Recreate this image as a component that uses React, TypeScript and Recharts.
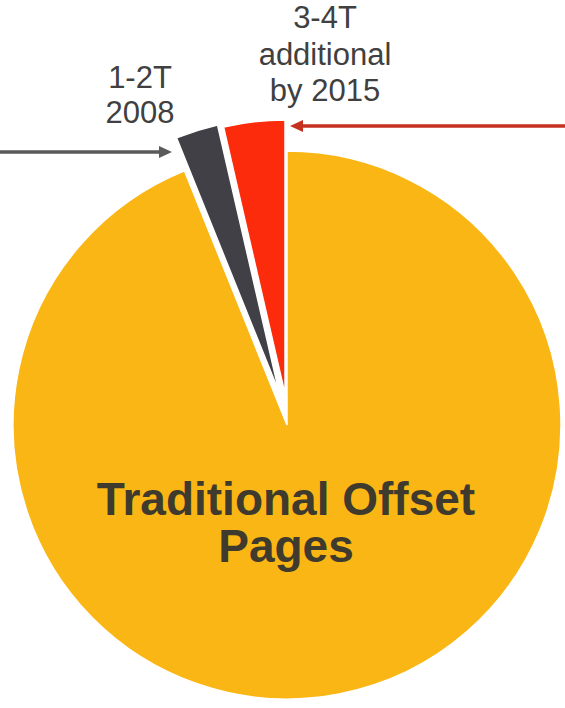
import { PieChart, Pie, Cell } from "recharts"

// slice order follows the pie counterclockwise from 12 o'clock
const segments = ["3-4T additional by 2015", "1-2T 2008", "Traditional Offset Pages"]
const shares = [3.6, 2.5, 93.9]
const COLORS = ["#FB2B0B", "#404046", "#FAB614"]

const newLabel = ["3-4T", "additional", "by 2015"]
const oldLabel = ["1-2T", "2008"]
const mainLabel = ["Traditional Offset", "Pages"]

const data = segments.map((name, i) => ({ name, value: shares[i] }))

const labelFont = "'Liberation Sans', Arial, sans-serif"

function Annotations() {
  return (
    <svg
      width={565}
      height={708}
      style={{ position: "absolute", left: 0, top: 0, pointerEvents: "none" }}
    >
      <g fontFamily={labelFont} fontSize={31} fill="#404040" textAnchor="middle">
        {newLabel.map((t, i) => (
          <text key={t} x={325} y={28 + i * 36.5}>{t}</text>
        ))}
        {oldLabel.map((t, i) => (
          <text key={t} x={140} y={88 + i * 35}>{t}</text>
        ))}
      </g>
      <g fontFamily={labelFont} fontSize={46} fontWeight="bold" fill="#3E3A2D" textAnchor="middle">
        {mainLabel.map((t, i) => (
          <text key={t} x={286} y={515 + i * 47}>{t}</text>
        ))}
      </g>
      {/* arrows */}
      <line x1={0} y1={152} x2={162} y2={152} stroke="#5A5A5A" strokeWidth={3.5} />
      <polygon points="172,152 159,146 159,158" fill="#5A5A5A" />
      <line x1={565} y1={126} x2={300} y2={126} stroke="#C4311F" strokeWidth={3.5} />
      <polygon points="290,126 303,120 303,132" fill="#C4311F" />
    </svg>
  )
}

// which slice each pie layer shows, and where its apex sits
const layers = [
  { show: 2, cx: 287, cy: 425 },
  { show: 0, cx: 285, cy: 394 },
  { show: 1, cx: 279, cy: 392 },
]

export default function App() {
  return (
    <div style={{ position: "absolute", left: 0, top: 0, width: 565, height: 708 }}>
      <PieChart width={565} height={708} margin={{ top: 0, right: 0, bottom: 0, left: 0 }}>
        {layers.map((layer) => (
          <Pie
            key={layer.show}
            data={data}
            dataKey="value"
            cx={layer.cx}
            cy={layer.cy}
            outerRadius={274}
            startAngle={90}
            endAngle={450}
            labelLine={false}
            isAnimationActive={false}
          >
            {data.map((entry, index) => (
              <Cell
                key={`cell-${index}`}
                fill={index === layer.show ? COLORS[index] : "transparent"}
                stroke={index === layer.show ? "#fff" : "none"}
                strokeWidth={1.5}
              />
            ))}
          </Pie>
        ))}
      </PieChart>
      <Annotations />
    </div>
  )
}
